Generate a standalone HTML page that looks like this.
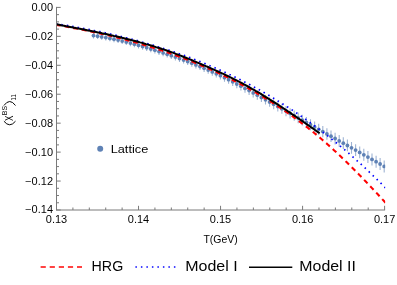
<!DOCTYPE html>
<html><head><meta charset="utf-8"><style>
html,body{margin:0;padding:0;background:#fff;}
svg{display:block;font-family:"Liberation Sans",sans-serif;}
</style></head><body>
<svg width="397" height="285" viewBox="0 0 397 285">
<defs><clipPath id="c"><rect x="56.5" y="0" width="328.70000000000005" height="210.0"/></clipPath></defs>
<rect width="397" height="285" fill="#fff"/>
<g clip-path="url(#c)">
<g stroke="#5E81B5" stroke-opacity="0.6" stroke-width="1.1"><line x1="93.5" y1="32.8" x2="93.5" y2="38.4"/><line x1="97.6" y1="33.4" x2="97.6" y2="39.0"/><line x1="101.7" y1="34.0" x2="101.7" y2="39.7"/><line x1="105.8" y1="34.7" x2="105.8" y2="40.5"/><line x1="109.9" y1="35.5" x2="109.9" y2="41.3"/><line x1="114.0" y1="36.3" x2="114.0" y2="42.2"/><line x1="118.1" y1="37.1" x2="118.1" y2="43.1"/><line x1="122.2" y1="38.1" x2="122.2" y2="44.1"/><line x1="126.3" y1="39.0" x2="126.3" y2="45.1"/><line x1="130.4" y1="40.0" x2="130.4" y2="46.2"/><line x1="134.4" y1="41.1" x2="134.4" y2="47.3"/><line x1="138.5" y1="42.2" x2="138.5" y2="48.5"/><line x1="142.6" y1="43.3" x2="142.6" y2="49.7"/><line x1="146.7" y1="44.5" x2="146.7" y2="50.9"/><line x1="150.8" y1="45.7" x2="150.8" y2="52.2"/><line x1="154.9" y1="47.0" x2="154.9" y2="53.5"/><line x1="159.0" y1="48.3" x2="159.0" y2="54.9"/><line x1="163.1" y1="49.6" x2="163.1" y2="56.2"/><line x1="167.2" y1="50.9" x2="167.2" y2="57.6"/><line x1="171.3" y1="52.3" x2="171.3" y2="59.1"/><line x1="175.4" y1="53.7" x2="175.4" y2="60.5"/><line x1="179.5" y1="55.1" x2="179.5" y2="62.0"/><line x1="183.6" y1="56.6" x2="183.6" y2="63.6"/><line x1="187.7" y1="58.1" x2="187.7" y2="65.1"/><line x1="191.8" y1="59.7" x2="191.8" y2="66.8"/><line x1="195.9" y1="61.3" x2="195.9" y2="68.4"/><line x1="200.0" y1="62.9" x2="200.0" y2="70.1"/><line x1="204.1" y1="64.6" x2="204.1" y2="71.9"/><line x1="208.2" y1="66.3" x2="208.2" y2="73.8"/><line x1="212.3" y1="68.1" x2="212.3" y2="75.7"/><line x1="216.3" y1="69.9" x2="216.3" y2="77.6"/><line x1="220.4" y1="71.7" x2="220.4" y2="79.6"/><line x1="224.5" y1="73.7" x2="224.5" y2="81.7"/><line x1="228.6" y1="75.6" x2="228.6" y2="83.8"/><line x1="232.7" y1="77.7" x2="232.7" y2="86.0"/><line x1="236.8" y1="79.7" x2="236.8" y2="88.2"/><line x1="240.9" y1="81.9" x2="240.9" y2="90.4"/><line x1="245.0" y1="84.0" x2="245.0" y2="92.7"/><line x1="249.1" y1="86.2" x2="249.1" y2="95.1"/><line x1="253.2" y1="88.4" x2="253.2" y2="97.4"/><line x1="257.3" y1="90.6" x2="257.3" y2="99.8"/><line x1="261.4" y1="92.8" x2="261.4" y2="102.1"/><line x1="265.5" y1="95.1" x2="265.5" y2="104.5"/><line x1="269.6" y1="97.3" x2="269.6" y2="106.8"/><line x1="273.7" y1="99.5" x2="273.7" y2="109.2"/><line x1="277.8" y1="101.7" x2="277.8" y2="111.5"/><line x1="281.9" y1="103.8" x2="281.9" y2="113.8"/><line x1="286.0" y1="106.0" x2="286.0" y2="116.2"/><line x1="290.1" y1="108.2" x2="290.1" y2="118.5"/><line x1="294.2" y1="110.4" x2="294.2" y2="120.8"/><line x1="298.2" y1="112.6" x2="298.2" y2="123.2"/><line x1="302.3" y1="114.8" x2="302.3" y2="125.5"/><line x1="306.4" y1="117.1" x2="306.4" y2="127.9"/><line x1="310.5" y1="119.3" x2="310.5" y2="130.2"/><line x1="314.6" y1="121.5" x2="314.6" y2="132.6"/><line x1="318.7" y1="123.7" x2="318.7" y2="134.9"/><line x1="322.8" y1="126.0" x2="322.8" y2="137.3"/><line x1="326.9" y1="128.2" x2="326.9" y2="139.7"/><line x1="331.0" y1="130.4" x2="331.0" y2="142.0"/><line x1="335.1" y1="132.7" x2="335.1" y2="144.4"/><line x1="339.2" y1="135.0" x2="339.2" y2="146.7"/><line x1="343.3" y1="137.3" x2="343.3" y2="149.0"/><line x1="347.4" y1="139.6" x2="347.4" y2="151.3"/><line x1="351.5" y1="141.9" x2="351.5" y2="153.7"/><line x1="355.6" y1="144.2" x2="355.6" y2="156.0"/><line x1="359.7" y1="146.5" x2="359.7" y2="158.3"/><line x1="363.8" y1="148.8" x2="363.8" y2="160.7"/><line x1="367.9" y1="151.1" x2="367.9" y2="163.0"/><line x1="372.0" y1="153.4" x2="372.0" y2="165.4"/><line x1="376.1" y1="155.8" x2="376.1" y2="167.7"/><line x1="380.1" y1="158.1" x2="380.1" y2="170.0"/><line x1="384.2" y1="160.4" x2="384.2" y2="172.4"/></g>
<g fill="#5E81B5"><circle cx="93.5" cy="35.6" r="1.9"/><circle cx="97.6" cy="36.2" r="1.9"/><circle cx="101.7" cy="36.9" r="1.9"/><circle cx="105.8" cy="37.6" r="1.9"/><circle cx="109.9" cy="38.4" r="1.9"/><circle cx="114.0" cy="39.2" r="1.9"/><circle cx="118.1" cy="40.1" r="1.9"/><circle cx="122.2" cy="41.1" r="1.9"/><circle cx="126.3" cy="42.1" r="1.9"/><circle cx="130.4" cy="43.1" r="1.9"/><circle cx="134.4" cy="44.2" r="1.9"/><circle cx="138.5" cy="45.3" r="1.9"/><circle cx="142.6" cy="46.5" r="1.9"/><circle cx="146.7" cy="47.7" r="1.9"/><circle cx="150.8" cy="49.0" r="1.9"/><circle cx="154.9" cy="50.2" r="1.9"/><circle cx="159.0" cy="51.6" r="1.9"/><circle cx="163.1" cy="52.9" r="1.9"/><circle cx="167.2" cy="54.3" r="1.9"/><circle cx="171.3" cy="55.7" r="1.9"/><circle cx="175.4" cy="57.1" r="1.9"/><circle cx="179.5" cy="58.6" r="1.9"/><circle cx="183.6" cy="60.1" r="1.9"/><circle cx="187.7" cy="61.6" r="1.9"/><circle cx="191.8" cy="63.2" r="1.9"/><circle cx="195.9" cy="64.9" r="1.9"/><circle cx="200.0" cy="66.5" r="1.9"/><circle cx="204.1" cy="68.3" r="1.9"/><circle cx="208.2" cy="70.0" r="1.9"/><circle cx="212.3" cy="71.9" r="1.9"/><circle cx="216.3" cy="73.8" r="1.9"/><circle cx="220.4" cy="75.7" r="1.9"/><circle cx="224.5" cy="77.7" r="1.9"/><circle cx="228.6" cy="79.7" r="1.9"/><circle cx="232.7" cy="81.8" r="1.9"/><circle cx="236.8" cy="84.0" r="1.9"/><circle cx="240.9" cy="86.2" r="1.9"/><circle cx="245.0" cy="88.4" r="1.9"/><circle cx="249.1" cy="90.6" r="1.9"/><circle cx="253.2" cy="92.9" r="1.9"/><circle cx="257.3" cy="95.2" r="1.9"/><circle cx="261.4" cy="97.5" r="1.9"/><circle cx="265.5" cy="99.8" r="1.9"/><circle cx="269.6" cy="102.0" r="1.9"/><circle cx="273.7" cy="104.3" r="1.9"/><circle cx="277.8" cy="106.6" r="1.9"/><circle cx="281.9" cy="108.8" r="1.9"/><circle cx="286.0" cy="111.1" r="1.9"/><circle cx="290.1" cy="113.4" r="1.9"/><circle cx="294.2" cy="115.6" r="1.9"/><circle cx="298.2" cy="117.9" r="1.9"/><circle cx="302.3" cy="120.2" r="1.9"/><circle cx="306.4" cy="122.5" r="1.9"/><circle cx="310.5" cy="124.7" r="1.9"/><circle cx="314.6" cy="127.0" r="1.9"/><circle cx="318.7" cy="129.3" r="1.9"/><circle cx="322.8" cy="131.6" r="1.9"/><circle cx="326.9" cy="133.9" r="1.9"/><circle cx="331.0" cy="136.2" r="1.9"/><circle cx="335.1" cy="138.5" r="1.9"/><circle cx="339.2" cy="140.9" r="1.9"/><circle cx="343.3" cy="143.2" r="1.9"/><circle cx="347.4" cy="145.5" r="1.9"/><circle cx="351.5" cy="147.8" r="1.9"/><circle cx="355.6" cy="150.1" r="1.9"/><circle cx="359.7" cy="152.4" r="1.9"/><circle cx="363.8" cy="154.8" r="1.9"/><circle cx="367.9" cy="157.1" r="1.9"/><circle cx="372.0" cy="159.4" r="1.9"/><circle cx="376.1" cy="161.7" r="1.9"/><circle cx="380.1" cy="164.0" r="1.9"/><circle cx="384.2" cy="166.4" r="1.9"/></g>
<path d="M56.0,24.7 L58.0,25.1 L60.0,25.4 L62.0,25.8 L64.0,26.2 L66.0,26.5 L68.0,26.9 L70.0,27.3 L72.0,27.7 L74.0,28.1 L76.0,28.5 L78.0,28.8 L80.0,29.2 L82.0,29.6 L84.0,30.1 L86.0,30.5 L88.0,30.9 L90.0,31.3 L92.0,31.7 L94.0,32.2 L96.0,32.6 L98.0,33.0 L100.0,33.5 L102.0,33.9 L104.0,34.4 L106.0,34.9 L108.0,35.3 L110.0,35.8 L112.0,36.3 L114.0,36.8 L116.0,37.3 L118.0,37.8 L120.0,38.3 L122.0,38.8 L124.0,39.3 L126.0,39.8 L128.0,40.4 L130.0,40.9 L132.0,41.5 L134.0,42.0 L136.0,42.6 L138.0,43.1 L140.0,43.7 L142.0,44.3 L144.0,44.9 L146.0,45.5 L148.0,46.1 L150.0,46.7 L152.0,47.3 L154.0,48.0 L156.0,48.6 L158.0,49.2 L160.0,49.9 L162.0,50.6 L164.0,51.2 L166.0,51.9 L168.0,52.6 L170.0,53.3 L172.0,54.0 L174.0,54.7 L176.0,55.4 L178.0,56.2 L180.0,56.9 L182.0,57.6 L184.0,58.4 L186.0,59.2 L188.0,59.9 L190.0,60.7 L192.0,61.5 L194.0,62.3 L196.0,63.2 L198.0,64.0 L200.0,64.8 L202.0,65.7 L204.0,66.5 L206.0,67.4 L208.0,68.3 L210.0,69.2 L212.0,70.1 L214.0,71.0 L216.0,71.9 L218.0,72.8 L220.0,73.8 L222.0,74.7 L224.0,75.7 L226.0,76.6 L228.0,77.6 L230.0,78.6 L232.0,79.6 L234.0,80.7 L236.0,81.7 L238.0,82.7 L240.0,83.8 L242.0,84.9 L244.0,86.0 L246.0,87.0 L248.0,88.2 L250.0,89.3 L252.0,90.4 L254.0,91.5 L256.0,92.7 L258.0,93.9 L260.0,95.0 L262.0,96.2 L264.0,97.5 L266.0,98.7 L268.0,99.9 L270.0,101.2 L272.0,102.4 L274.0,103.7 L276.0,105.0 L278.0,106.3 L280.0,107.6 L282.0,109.0 L284.0,110.3 L286.0,111.7 L288.0,113.1 L290.0,114.5 L292.0,115.9 L294.0,117.3 L296.0,118.8 L298.0,120.3 L300.0,121.8 L302.0,123.3 L304.0,124.8 L306.0,126.4 L308.0,127.9 L310.0,129.5 L312.0,131.1 L314.0,132.8 L316.0,134.4 L318.0,136.1 L320.0,137.8 L322.0,139.5 L324.0,141.2 L326.0,143.0 L328.0,144.7 L330.0,146.5 L332.0,148.3 L334.0,150.2 L336.0,152.0 L338.0,153.9 L340.0,155.8 L342.0,157.7 L344.0,159.6 L346.0,161.6 L348.0,163.5 L350.0,165.5 L352.0,167.5 L354.0,169.5 L356.0,171.5 L358.0,173.5 L360.0,175.6 L362.0,177.6 L364.0,179.7 L366.0,181.8 L368.0,183.9 L370.0,186.0 L372.0,188.1 L374.0,190.3 L376.0,192.4 L378.0,194.5 L380.0,196.7 L382.0,198.9 L384.0,201.0 L385.6,202.8" fill="none" stroke="#ff0000" stroke-width="2.1" stroke-dasharray="4.9 3.9000000000000004" stroke-dashoffset="-8.65"/>
<path d="M56.0,23.6 L58.0,23.9 L60.0,24.2 L62.0,24.6 L64.0,24.9 L66.0,25.2 L68.0,25.6 L70.0,25.9 L72.0,26.3 L74.0,26.6 L76.0,27.0 L78.0,27.4 L80.0,27.7 L82.0,28.1 L84.0,28.5 L86.0,28.9 L88.0,29.3 L90.0,29.7 L92.0,30.1 L94.0,30.5 L96.0,30.9 L98.0,31.3 L100.0,31.7 L102.0,32.1 L104.0,32.6 L106.0,33.0 L108.0,33.4 L110.0,33.9 L112.0,34.3 L114.0,34.8 L116.0,35.3 L118.0,35.7 L120.0,36.2 L122.0,36.7 L124.0,37.2 L126.0,37.7 L128.0,38.2 L130.0,38.7 L132.0,39.2 L134.0,39.8 L136.0,40.3 L138.0,40.8 L140.0,41.4 L142.0,42.0 L144.0,42.5 L146.0,43.1 L148.0,43.7 L150.0,44.2 L152.0,44.8 L154.0,45.4 L156.0,46.0 L158.0,46.7 L160.0,47.3 L162.0,47.9 L164.0,48.6 L166.0,49.2 L168.0,49.9 L170.0,50.5 L172.0,51.2 L174.0,51.9 L176.0,52.6 L178.0,53.3 L180.0,54.0 L182.0,54.7 L184.0,55.4 L186.0,56.1 L188.0,56.9 L190.0,57.6 L192.0,58.4 L194.0,59.2 L196.0,60.0 L198.0,60.7 L200.0,61.5 L202.0,62.3 L204.0,63.2 L206.0,64.0 L208.0,64.8 L210.0,65.7 L212.0,66.5 L214.0,67.4 L216.0,68.3 L218.0,69.2 L220.0,70.1 L222.0,71.0 L224.0,71.9 L226.0,72.8 L228.0,73.8 L230.0,74.7 L232.0,75.7 L234.0,76.6 L236.0,77.6 L238.0,78.6 L240.0,79.6 L242.0,80.6 L244.0,81.7 L246.0,82.7 L248.0,83.8 L250.0,84.8 L252.0,85.9 L254.0,87.0 L256.0,88.1 L258.0,89.2 L260.0,90.3 L262.0,91.5 L264.0,92.6 L266.0,93.8 L268.0,94.9 L270.0,96.1 L272.0,97.3 L274.0,98.5 L276.0,99.7 L278.0,101.0 L280.0,102.2 L282.0,103.5 L284.0,104.7 L286.0,106.0 L288.0,107.3 L290.0,108.6 L292.0,109.9 L294.0,111.3 L296.0,112.6 L298.0,114.0 L300.0,115.4 L302.0,116.8 L304.0,118.2 L306.0,119.6 L308.0,121.0 L310.0,122.5 L312.0,123.9 L314.0,125.4 L316.0,126.9 L318.0,128.4 L320.0,129.9 L322.0,131.4 L324.0,133.0 L326.0,134.5 L328.0,136.1 L330.0,137.7 L332.0,139.3 L334.0,140.9 L336.0,142.5 L338.0,144.2 L340.0,145.9 L342.0,147.5 L344.0,149.2 L346.0,150.9 L348.0,152.7 L350.0,154.4 L352.0,156.2 L354.0,157.9 L356.0,159.7 L358.0,161.5 L360.0,163.3 L362.0,165.2 L364.0,167.0 L366.0,168.9 L368.0,170.8 L370.0,172.7 L372.0,174.6 L374.0,176.5 L376.0,178.5 L378.0,180.4 L380.0,182.4 L382.0,184.4 L384.0,186.4 L385.6,188.1" fill="none" stroke="#0000ff" stroke-width="1.7" stroke-dasharray="1.5 4.0" stroke-dashoffset="-5.39"/>
<path d="M56.0,24.3 L58.0,24.6 L60.0,25.0 L62.0,25.4 L64.0,25.8 L66.0,26.2 L68.0,26.5 L70.0,26.9 L72.0,27.3 L74.0,27.7 L76.0,28.1 L78.0,28.4 L80.0,28.8 L82.0,29.2 L84.0,29.6 L86.0,30.0 L88.0,30.4 L90.0,30.8 L92.0,31.2 L94.0,31.6 L96.0,32.0 L98.0,32.4 L100.0,32.8 L102.0,33.3 L104.0,33.7 L106.0,34.1 L108.0,34.5 L110.0,35.0 L112.0,35.4 L114.0,35.9 L116.0,36.3 L118.0,36.8 L120.0,37.3 L122.0,37.8 L124.0,38.2 L126.0,38.7 L128.0,39.2 L130.0,39.7 L132.0,40.3 L134.0,40.8 L136.0,41.3 L138.0,41.8 L140.0,42.4 L142.0,42.9 L144.0,43.5 L146.0,44.1 L148.0,44.6 L150.0,45.2 L152.0,45.8 L154.0,46.4 L156.0,47.1 L158.0,47.7 L160.0,48.3 L162.0,49.0 L164.0,49.6 L166.0,50.3 L168.0,51.0 L170.0,51.7 L172.0,52.4 L174.0,53.1 L176.0,53.9 L178.0,54.6 L180.0,55.4 L182.0,56.2 L184.0,57.0 L186.0,57.8 L188.0,58.6 L190.0,59.4 L192.0,60.2 L194.0,61.1 L196.0,61.9 L198.0,62.8 L200.0,63.6 L202.0,64.5 L204.0,65.3 L206.0,66.2 L208.0,67.0 L210.0,67.9 L212.0,68.8 L214.0,69.7 L216.0,70.6 L218.0,71.5 L220.0,72.4 L222.0,73.3 L224.0,74.2 L226.0,75.2 L228.0,76.1 L230.0,77.1 L232.0,78.1 L234.0,79.1 L236.0,80.1 L238.0,81.1 L240.0,82.2 L242.0,83.2 L244.0,84.3 L246.0,85.4 L248.0,86.5 L250.0,87.6 L252.0,88.8 L254.0,89.9 L256.0,91.1 L258.0,92.2 L260.0,93.4 L262.0,94.6 L264.0,95.9 L266.0,97.1 L268.0,98.3 L270.0,99.6 L272.0,100.8 L274.0,102.1 L276.0,103.4 L278.0,104.7 L280.0,106.0 L282.0,107.3 L284.0,108.7 L286.0,110.0 L288.0,111.4 L290.0,112.7 L292.0,114.1 L294.0,115.4 L296.0,116.8 L298.0,118.2 L300.0,119.5 L302.0,120.9 L304.0,122.3 L306.0,123.7 L308.0,125.1 L310.0,126.5 L312.0,127.9 L314.0,129.3 L316.0,130.7 L318.0,132.1 L319.7,133.3" fill="none" stroke="#000" stroke-width="2.0"/>
</g>
<g stroke="#7a7a7a" stroke-width="1">
<line x1="56.5" y1="6.9" x2="56.5" y2="210.5"/>
<line x1="56.5" y1="210.0" x2="385.1" y2="210.0"/>
<line x1="56.50" y1="210.0" x2="56.50" y2="205.8"/><line x1="72.91" y1="210.0" x2="72.91" y2="207.5"/><line x1="89.31" y1="210.0" x2="89.31" y2="207.5"/><line x1="105.72" y1="210.0" x2="105.72" y2="207.5"/><line x1="122.12" y1="210.0" x2="122.12" y2="207.5"/><line x1="138.53" y1="210.0" x2="138.53" y2="205.8"/><line x1="154.93" y1="210.0" x2="154.93" y2="207.5"/><line x1="171.34" y1="210.0" x2="171.34" y2="207.5"/><line x1="187.74" y1="210.0" x2="187.74" y2="207.5"/><line x1="204.15" y1="210.0" x2="204.15" y2="207.5"/><line x1="220.55" y1="210.0" x2="220.55" y2="205.8"/><line x1="236.95" y1="210.0" x2="236.95" y2="207.5"/><line x1="253.36" y1="210.0" x2="253.36" y2="207.5"/><line x1="269.76" y1="210.0" x2="269.76" y2="207.5"/><line x1="286.17" y1="210.0" x2="286.17" y2="207.5"/><line x1="302.58" y1="210.0" x2="302.58" y2="205.8"/><line x1="318.98" y1="210.0" x2="318.98" y2="207.5"/><line x1="335.39" y1="210.0" x2="335.39" y2="207.5"/><line x1="351.79" y1="210.0" x2="351.79" y2="207.5"/><line x1="368.20" y1="210.0" x2="368.20" y2="207.5"/><line x1="384.60" y1="210.0" x2="384.60" y2="205.8"/><line x1="56.5" y1="7.40" x2="60.7" y2="7.40"/><line x1="56.5" y1="14.64" x2="59.0" y2="14.64"/><line x1="56.5" y1="21.87" x2="59.0" y2="21.87"/><line x1="56.5" y1="29.11" x2="59.0" y2="29.11"/><line x1="56.5" y1="36.34" x2="60.7" y2="36.34"/><line x1="56.5" y1="43.58" x2="59.0" y2="43.58"/><line x1="56.5" y1="50.81" x2="59.0" y2="50.81"/><line x1="56.5" y1="58.05" x2="59.0" y2="58.05"/><line x1="56.5" y1="65.29" x2="60.7" y2="65.29"/><line x1="56.5" y1="72.52" x2="59.0" y2="72.52"/><line x1="56.5" y1="79.76" x2="59.0" y2="79.76"/><line x1="56.5" y1="86.99" x2="59.0" y2="86.99"/><line x1="56.5" y1="94.23" x2="60.7" y2="94.23"/><line x1="56.5" y1="101.46" x2="59.0" y2="101.46"/><line x1="56.5" y1="108.70" x2="59.0" y2="108.70"/><line x1="56.5" y1="115.94" x2="59.0" y2="115.94"/><line x1="56.5" y1="123.17" x2="60.7" y2="123.17"/><line x1="56.5" y1="130.41" x2="59.0" y2="130.41"/><line x1="56.5" y1="137.64" x2="59.0" y2="137.64"/><line x1="56.5" y1="144.88" x2="59.0" y2="144.88"/><line x1="56.5" y1="152.11" x2="60.7" y2="152.11"/><line x1="56.5" y1="159.35" x2="59.0" y2="159.35"/><line x1="56.5" y1="166.59" x2="59.0" y2="166.59"/><line x1="56.5" y1="173.82" x2="59.0" y2="173.82"/><line x1="56.5" y1="181.06" x2="60.7" y2="181.06"/><line x1="56.5" y1="188.29" x2="59.0" y2="188.29"/><line x1="56.5" y1="195.53" x2="59.0" y2="195.53"/><line x1="56.5" y1="202.76" x2="59.0" y2="202.76"/><line x1="56.5" y1="210.00" x2="60.7" y2="210.00"/>
</g>
<g opacity="0.99">
<g font-size="10px" fill="#000"><text transform="translate(56.5,223.2) scale(1.1,1)" text-anchor="middle">0.13</text><text transform="translate(138.5,223.2) scale(1.1,1)" text-anchor="middle">0.14</text><text transform="translate(220.5,223.2) scale(1.1,1)" text-anchor="middle">0.15</text><text transform="translate(302.6,223.2) scale(1.1,1)" text-anchor="middle">0.16</text><text transform="translate(384.6,223.2) scale(1.1,1)" text-anchor="middle">0.17</text><text transform="translate(53.0,10.8) scale(1.1,1)" text-anchor="end">0.00</text><text transform="translate(53.0,39.7) scale(1.1,1)" text-anchor="end">−0.02</text><text transform="translate(53.0,68.7) scale(1.1,1)" text-anchor="end">−0.04</text><text transform="translate(53.0,97.6) scale(1.1,1)" text-anchor="end">−0.06</text><text transform="translate(53.0,126.6) scale(1.1,1)" text-anchor="end">−0.08</text><text transform="translate(53.0,155.5) scale(1.1,1)" text-anchor="end">−0.10</text><text transform="translate(53.0,184.5) scale(1.1,1)" text-anchor="end">−0.12</text><text transform="translate(53.0,213.4) scale(1.1,1)" text-anchor="end">−0.14</text></g>
<text transform="translate(220.6,242.9) scale(1.05,1)" font-size="10px" text-anchor="middle">T(GeV)</text>
<g fill="#000">
<path d="M3.9,121.2 Q9.7,128.4 15.5,121.2" fill="none" stroke="#000" stroke-width="1"/>
<text transform="translate(12.7,121.0) rotate(-90) scale(0.78,1)" font-size="10.3px">X</text>
<text transform="translate(6.8,115.2) rotate(-90)" font-size="7px">BS</text>
<path d="M3.9,105.5 Q9.7,97.5 15.5,105.5" fill="none" stroke="#000" stroke-width="1"/>
<text transform="translate(16.4,100.4) rotate(-90) scale(0.88,1)" font-size="6.8px">11</text>
</g>
<circle cx="100.2" cy="148.8" r="3" fill="#5E81B5"/>
<text transform="translate(110.7,153) scale(1.11,1)" font-size="11.5px">Lattice</text>
<line x1="40.6" y1="267" x2="82" y2="267" stroke="#f00" stroke-width="1.7" stroke-dasharray="5.2 3.9"/>
<text x="91.6" y="271.1" font-size="14.6px" textLength="31.6" lengthAdjust="spacingAndGlyphs">HRG</text>
<line x1="135.4" y1="267" x2="177" y2="267" stroke="#00f" stroke-width="1.5" stroke-dasharray="1.5 4"/>
<text x="185.2" y="271.1" font-size="14.6px" textLength="52.4" lengthAdjust="spacingAndGlyphs">Model I</text>
<line x1="249" y1="267.2" x2="292.3" y2="267.2" stroke="#000" stroke-width="1.4"/>
<text x="299.3" y="271.1" font-size="14.6px" textLength="56.6" lengthAdjust="spacingAndGlyphs">Model II</text>
</g>
</svg>
</body></html>
